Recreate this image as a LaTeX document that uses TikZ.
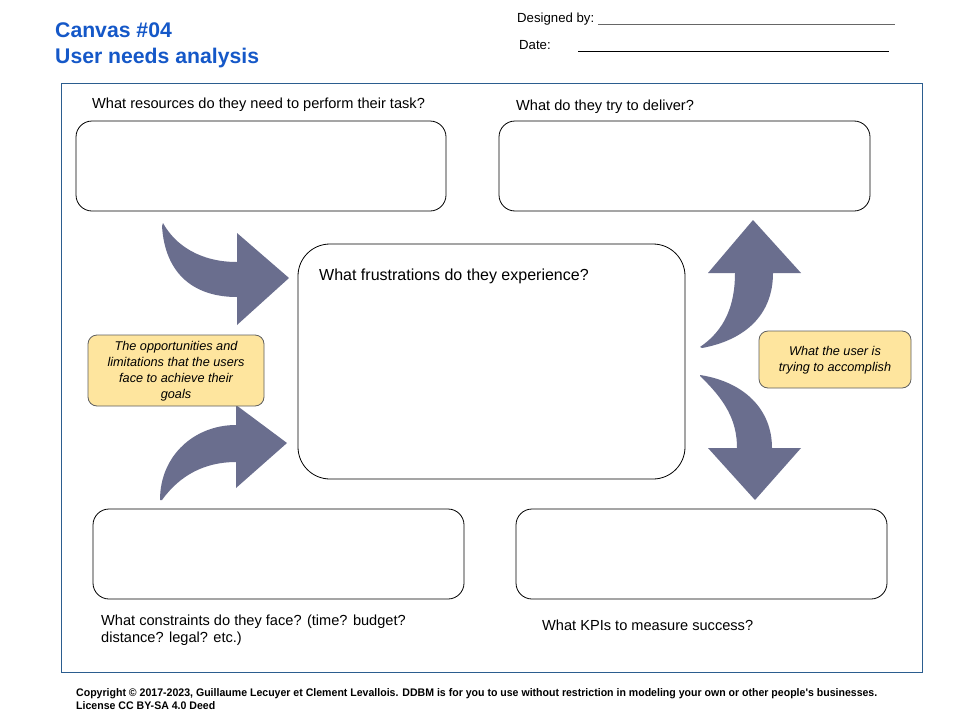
\documentclass[tikz,border=0pt]{standalone}
\usepackage{fontspec}
\setmainfont{Liberation Sans}
\newfontfamily\narrowfont[FakeStretch=0.96]{Liberation Sans}
\definecolor{frameblue}{HTML}{2B5D8F}
\definecolor{titleblue}{HTML}{1558C8}
\definecolor{arrowcol}{HTML}{6A6E8E}
\definecolor{stickyfill}{HTML}{FEE59E}
\definecolor{stickyline}{HTML}{5F5F5F}
\definecolor{lineGray}{HTML}{666666}
\begin{document}
\begin{tikzpicture}[x=1pt,y=-1pt,
  lbl/.style={anchor=base west,inner sep=0pt,font=\fontsize{14.6}{17}\selectfont},
  box/.style={draw=black,line width=0.8pt,rounded corners=16pt},
  sticky/.style={draw=stickyline,fill=stickyfill,line width=0.8pt,rounded corners=9pt},
  stickytxt/.style={align=center,inner sep=0pt,font=\fontsize{12.7}{16}\selectfont\itshape},
  bigarrow/.style={fill=arrowcol,draw=none}]
\useasboundingbox[fill=white] (0,0) rectangle (960,720);
% title
\node[anchor=base west,inner sep=0pt,text=titleblue,font=\fontsize{21.2}{24}\selectfont\bfseries] (t1) at (55,37) {Canvas \#04};
\node[anchor=base west,inner sep=0pt,text=titleblue,font=\fontsize{21.2}{24}\selectfont\bfseries] (t2) at (55,63) {User needs analysis};
% designed by / date
\node[anchor=base west,inner sep=0pt,font=\fontsize{13.2}{15}\selectfont] (des) at (517,22) {Designed by:};
\coordinate (d1) at (598,24); \coordinate (d2) at (895,24);
\draw[lineGray,line width=0.9pt] (d1) -- (d2);
\node[anchor=base west,inner sep=0pt,font=\fontsize{13.2}{15}\selectfont] (dat) at (519,49) {Date:};
\coordinate (e1) at (578,51); \coordinate (e2) at (889,51);
\draw[black,line width=0.9pt] (e1) -- (e2);
% frame
\draw[frameblue,line width=0.9pt] (61,83) rectangle (922,672);
% boxes
\draw[box] (76,121) rectangle (446,211);
\draw[box] (499,121) rectangle (870,211);
\draw[box,rounded corners=32pt] (298,244) rectangle (685,479);
\draw[box] (93,509) rectangle (464,599);
\draw[box] (516,509) rectangle (887,599);
% labels
\node[lbl] (l1) at (92,108) {What resources do they need to perform their task?};
\node[lbl] (l2) at (516,110) {What do they try to deliver?};
\node[lbl,font=\fontsize{16}{18}\selectfont] (l3) at (319,280) {What frustrations do they experience?};
\node[lbl] (l4) at (101,625) {What constraints do they face? (time? budget?};
\node[lbl] (l5) at (101,642) {distance? legal? etc.)};
\node[lbl] (l6) at (542,630) {What KPIs to measure success?};
% arrows
\fill[bigarrow] (163,223) .. controls (175,245) and (200,262) .. (237,262) -- (237,233) -- (289,278) -- (237,325) -- (237,297) .. controls (195,297) and (165,275) .. (162,226) -- cycle;
\fill[bigarrow] (160,500) .. controls (160,455) and (195,425) .. (236,425) -- (236,405) -- (287,443) -- (236,488) -- (236,462) .. controls (205,462) and (180,475) .. (162,500) -- cycle;
\fill[bigarrow] (700,347) .. controls (725,330) and (735,305) .. (735,273) -- (708,273) -- (753,220) -- (801,273) -- (773,273) .. controls (773,315) and (745,340) .. (702,348) -- cycle;
\fill[bigarrow] (700,375) .. controls (745,382) and (772,410) .. (772,448) -- (801,448) -- (755,500) -- (708,448) -- (737,448) .. controls (737,420) and (725,400) .. (700,376) -- cycle;
% stickies
\draw[sticky] (88,335) rectangle (264,406);
\node[stickytxt] (s1) at (176,371) {The opportunities and\\limitations that the users\\face to achieve their\\goals};
\draw[sticky] (759,331) rectangle (911,388);
\node[stickytxt] (s2) at (835,360) {What the user is\\trying to accomplish};
% footer
\node[anchor=base west,inner sep=0pt,font=\narrowfont\bfseries\fontsize{11}{13}\selectfont] (f1) at (76,696) {Copyright © 2017-2023, Guillaume Lecuyer et Clement Levallois. DDBM is for you to use without restriction in modeling your own or other people's businesses.};
\node[anchor=base west,inner sep=0pt,font=\narrowfont\bfseries\fontsize{11}{13}\selectfont] (f2) at (76,709) {License CC BY-SA 4.0 Deed};
\end{tikzpicture}
\end{document}
